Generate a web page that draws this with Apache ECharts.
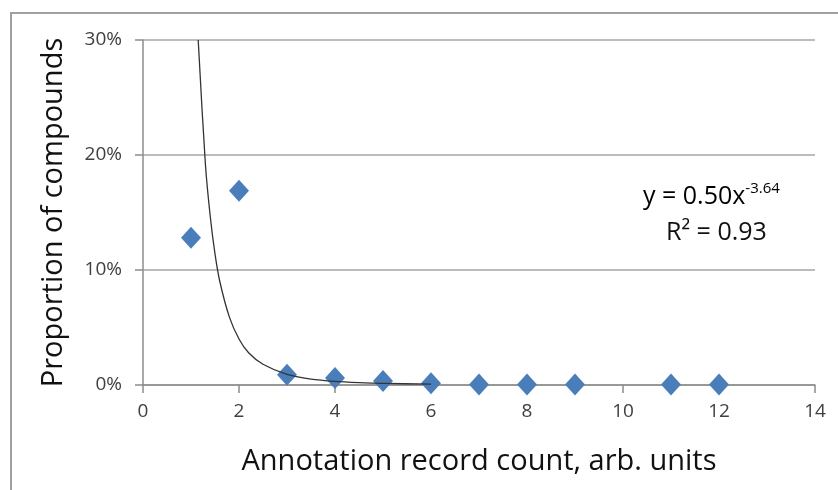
<!DOCTYPE html>
<html>
<head>
<meta charset="utf-8">
<script src="https://cdn.jsdelivr.net/npm/echarts@6/dist/echarts.min.js"></script>
<style>
  html, body { margin: 0; padding: 0; background: #fff; }
  #main { width: 838px; height: 490px; }
</style>
</head>
<body>
<div id="main"></div>
<script>
// measured points (annotation record count, % of compounds)
var recordCount = [1, 2, 3, 4, 5, 6, 7, 8, 9, 11, 12];
var proportion = [12.8, 16.9, 0.9, 0.6, 0.35, 0.15, 0.05, 0.05, 0.05, 0.05, 0.05];

// power trendline as drawn (x, %)
var trendX = [1.15, 1.3, 1.4, 1.5, 1.6, 1.8, 2, 2.2, 2.5, 3, 3.5, 4, 4.5, 5, 6];
var trendY = [30.0, 19.2, 14.7, 11.4, 9.0, 5.9, 4.0, 2.8, 1.8, 0.92, 0.52, 0.32, 0.21, 0.14, 0.07];

var xTicks = [0, 2, 4, 6, 8, 10, 12, 14];
var yTicks = [0, 10, 20, 30];

var font = 'Open Sans';
var pts = recordCount.map(function (x, i) { return [x, proportion[i]]; });
var trend = trendX.map(function (x, i) { return [x, trendY[i]]; });

var chart = echarts.init(document.getElementById('main'));
chart.setOption({
  animation: false,
  backgroundColor: '#fff',
  grid: { left: 143, right: 23, top: 40, bottom: 105 },
  xAxis: {
    type: 'value',
    min: xTicks[0], max: xTicks[xTicks.length - 1], interval: 2,
    name: 'Annotation record count, arb. units',
    nameLocation: 'middle', nameGap: 62,
    nameTextStyle: { fontFamily: font, fontSize: 29, color: '#111' },
    axisLine: { lineStyle: { color: '#8c8c8c', width: 1.5 } },
    axisTick: { show: true, length: 8, lineStyle: { color: '#8c8c8c', width: 1.5 } },
    axisLabel: { fontFamily: font, fontSize: 19, color: '#404040', margin: 17 },
    splitLine: { show: false }
  },
  yAxis: {
    type: 'value',
    min: yTicks[0], max: yTicks[yTicks.length - 1], interval: 10,
    name: 'Proportion of compounds',
    nameLocation: 'middle', nameGap: 75,
    nameTextStyle: { fontFamily: font, fontSize: 29, color: '#111' },
    axisLine: { show: true, lineStyle: { color: '#8c8c8c', width: 1.5 } },
    axisTick: { show: true, length: 8, lineStyle: { color: '#8c8c8c', width: 1.5 } },
    axisLabel: { fontFamily: font, fontSize: 19, color: '#404040', margin: 21, formatter: '{value}%' },
    splitLine: { lineStyle: { color: '#a6a6a6', width: 1.5 } }
  },
  series: [
    {
      type: 'line',
      data: trend,
      smooth: 0.3,
      showSymbol: false,
      clip: true,
      lineStyle: { color: '#333', width: 1.3 },
      z: 3
    },
    {
      type: 'scatter',
      data: pts,
      symbol: 'diamond',
      symbolSize: [20, 22],
      itemStyle: { color: '#4a7ebb', opacity: 1 },
      z: 2
    }
  ],
  graphic: [
    {
      type: 'rect',
      shape: { x: 11, y: 13, width: 900, height: 600 },
      style: { fill: 'none', stroke: '#a0a0a0', lineWidth: 2 },
      silent: true
    },
    {
      type: 'text',
      left: 643, top: 181,
      style: {
        text: '{b|y = 0.50x}{s|-3.64}',
        rich: {
          b: { fontFamily: font, fontSize: 25, color: '#111', verticalAlign: 'bottom' },
          s: { fontFamily: font, fontSize: 15, color: '#111', verticalAlign: 'top', padding: [0, 0, 13, 0] }
        }
      }
    },
    {
      type: 'text',
      left: 666, top: 220,
      style: { text: 'R² = 0.93', fontFamily: font, fontSize: 25, fill: '#111' }
    }
  ]
});
</script>
</body>
</html>
